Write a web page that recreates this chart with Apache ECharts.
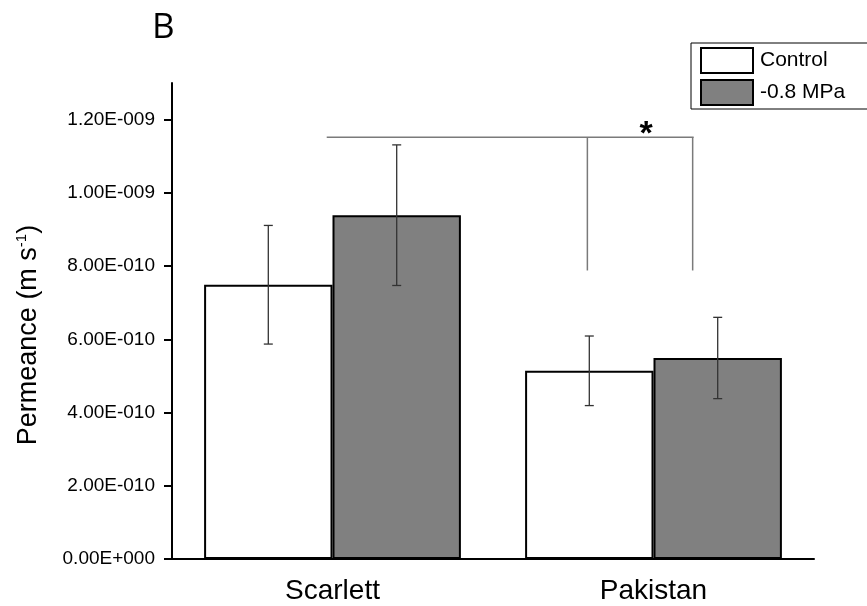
<!DOCTYPE html>
<html>
<head>
<meta charset="utf-8">
<script src="https://cdn.jsdelivr.net/npm/echarts@6/dist/echarts.min.js"></script>
<style>
  html, body { margin: 0; padding: 0; background: #fff; }
  #chart { width: 867px; height: 606px; }
</style>
</head>
<body>
<div id="chart"></div>
<script>
// Cultivars on the x axis
const categories = ['Scarlett', 'Pakistan'];
// Mean permeance (m s^-1) and error-bar half widths
const controlValues = [7.49e-10, 5.14e-10];
const controlErrors = [1.62e-10, 0.95e-10];
const stressValues = [9.39e-10, 5.49e-10];
const stressErrors = [1.92e-10, 1.11e-10];
// Ticks shown on the value axis
const yTicks = [0, 2e-10, 4e-10, 6e-10, 8e-10, 1e-9, 1.2e-9];
const yMax = 1.3e-9;
// Significance bracket: level and drop, with x anchors as [category, band offset]
const bracketLevel = 1.152e-9;
const bracketDrop = 0.788e-9;
const bracketStart = [0, -0.018];
const bracketLegs = [[1, -0.206], [1, 0.122]];
const bracketMark = '*';

const FONT = '"Liberation Sans", Arial, sans-serif';

function sciLabel(v) {
  const s = Number(v).toExponential(2);
  const parts = s.split('e');
  const exp = parseInt(parts[1], 10);
  const sign = exp < 0 ? '-' : '+';
  return parts[0] + 'E' + sign + String(Math.abs(exp)).padStart(3, '0');
}

// error bars drawn at the centre of each bar of a two-bar group
function errorBarSeries(name, values, errors, offset) {
  return {
    type: 'custom',
    name: name + ' error',
    z: 5,
    data: values.map((v, i) => [i, v, errors[i]]),
    renderItem: function (params, api) {
      const i = api.value(0);
      const v = api.value(1);
      const e = api.value(2);
      const band = api.size([1, 0])[0];
      const top = api.coord([i, v + e]);
      const bot = api.coord([i, v - e]);
      const x = top[0] + offset * band;
      const cap = 4.5;
      const style = { stroke: '#333', lineWidth: 1.3 };
      return {
        type: 'group',
        children: [
          { type: 'line', shape: { x1: x, y1: top[1], x2: x, y2: bot[1] }, style: style },
          { type: 'line', shape: { x1: x - cap, y1: top[1], x2: x + cap, y2: top[1] }, style: style },
          { type: 'line', shape: { x1: x - cap, y1: bot[1], x2: x + cap, y2: bot[1] }, style: style }
        ]
      };
    }
  };
}

const chart = echarts.init(document.getElementById('chart'));

chart.setOption({
  animation: false,
  backgroundColor: '#fff',
  grid: { left: 172, right: 53, top: 83, bottom: 47 },
  legend: {
    orient: 'vertical',
    left: 691,
    top: 43,
    padding: [4, 40, 3, 9],
    borderColor: '#000',
    borderWidth: 1,
    itemWidth: 52,
    itemHeight: 25,
    itemGap: 5,
    icon: 'rect',
    itemStyle: { borderColor: '#000', borderWidth: 2 },
    textStyle: { fontFamily: FONT, fontSize: 21, color: '#000', padding: [0, 0, 0, 2] },
    data: ['Control', '-0.8 MPa']
  },
  xAxis: {
    type: 'category',
    data: categories,
    axisLine: { lineStyle: { color: '#000', width: 2 } },
    axisTick: { alignWithLabel: true, length: 9, lineStyle: { color: '#000', width: 2 } },
    axisLabel: { fontFamily: FONT, fontSize: 28, color: '#000', margin: 18 }
  },
  yAxis: {
    type: 'value',
    min: 0,
    max: yMax,
    splitLine: { show: false },
    axisLine: { show: true, lineStyle: { color: '#000', width: 2 } },
    axisTick: { show: true, length: 8, customValues: yTicks, lineStyle: { color: '#000', width: 2 } },
    axisLabel: {
      customValues: yTicks,
      fontFamily: FONT,
      fontSize: 19,
      color: '#000',
      margin: 17,
      formatter: sciLabel
    }
  },
  series: [
    {
      type: 'bar',
      name: 'Control',
      data: controlValues,
      barGap: '0%',
      barCategoryGap: '20%',
      itemStyle: { color: '#fff', borderColor: '#000', borderWidth: 2 }
    },
    {
      type: 'bar',
      name: '-0.8 MPa',
      data: stressValues,
      barGap: '0%',
      barCategoryGap: '20%',
      itemStyle: { color: '#808080', borderColor: '#000', borderWidth: 2 }
    },
    errorBarSeries('Control', controlValues, controlErrors, -0.2),
    errorBarSeries('-0.8 MPa', stressValues, stressErrors, 0.2),
    {
      type: 'custom',
      name: 'significance',
      z: 6,
      data: [[bracketLevel, bracketDrop]],
      renderItem: function (params, api) {
        const level = api.value(0);
        const drop = api.value(1);
        const band = api.size([1, 0])[0];
        const xAt = (a) => api.coord([a[0], level])[0] + a[1] * band;
        const yTop = api.coord([0, level])[1];
        const yBot = api.coord([0, drop])[1];
        const x0 = xAt(bracketStart);
        const xa = xAt(bracketLegs[0]);
        const xb = xAt(bracketLegs[1]);
        const style = { stroke: '#7a7a7a', lineWidth: 1.5 };
        return {
          type: 'group',
          children: [
            { type: 'line', shape: { x1: x0, y1: yTop, x2: xb + 1, y2: yTop }, style: style },
            { type: 'line', shape: { x1: xa, y1: yTop, x2: xa, y2: yBot }, style: style },
            { type: 'line', shape: { x1: xb, y1: yTop, x2: xb, y2: yBot }, style: style },
            {
              type: 'text',
              x: (xa + xb) / 2 + 6,
              y: yTop + 14,
              style: {
                text: bracketMark,
                fontFamily: FONT,
                fontWeight: 'bold',
                fontSize: 34,
                fill: '#000',
                align: 'center',
                verticalAlign: 'bottom'
              }
            }
          ]
        };
      }
    }
  ],
  graphic: [
    {
      type: 'text',
      left: 152,
      top: 11,
      style: { text: 'B', fontFamily: '"Open Sans", sans-serif', fontSize: 35, fontWeight: 500, fill: '#000' }
    },
    {
      type: 'text',
      x: 29,
      y: 335,
      rotation: Math.PI / 2,
      style: {
        text: '{a|Permeance (m s}{s|-1}{a|)}',
        align: 'center',
        verticalAlign: 'middle',
        rich: {
          a: { fontFamily: FONT, fontSize: 27, fill: '#000', lineHeight: 30 },
          s: { fontFamily: FONT, fontSize: 15, fill: '#000', lineHeight: 30, padding: [0, 0, 14, 0] }
        }
      }
    }
  ]
});
</script>
</body>
</html>
